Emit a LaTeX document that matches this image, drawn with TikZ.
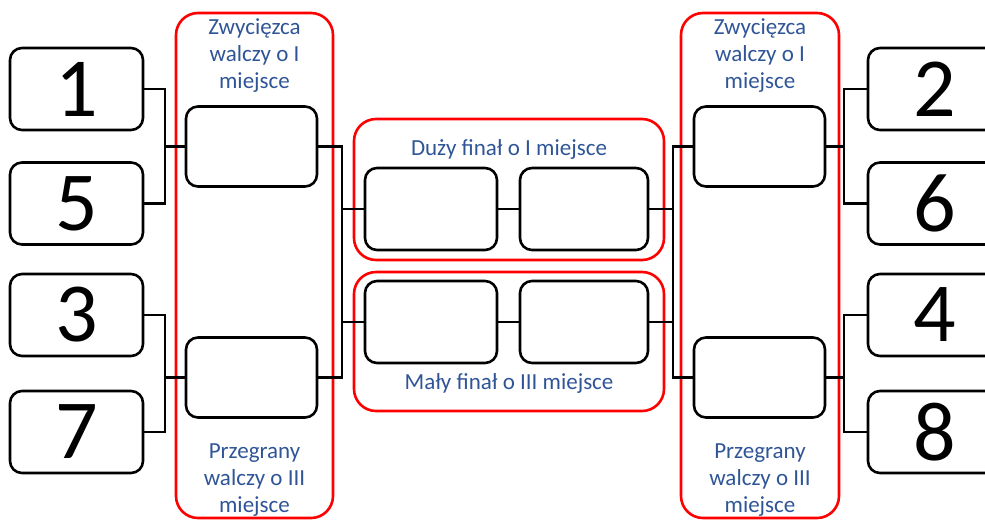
\documentclass[tikz,border=0pt]{standalone}
\usepackage{fontspec}
\setmainfont{Carlito}
\usetikzlibrary{backgrounds}
\definecolor{lblue}{HTML}{2F5597}
\begin{document}
\begin{tikzpicture}[x=1pt,y=-1pt,
  numbox/.style={draw=black,line width=2.6pt,rounded corners=12pt,fill=white,minimum width=133pt,minimum height=82pt,inner sep=0pt,font=\fontsize{84}{84}\selectfont},
  winbox/.style={draw=black,line width=2.6pt,rounded corners=12pt,fill=white,minimum width=131pt,minimum height=80pt,inner sep=0pt},
  finbox/.style={draw=black,line width=2.6pt,rounded corners=12pt,fill=white,minimum height=82pt,inner sep=0pt},
  redbox/.style={draw=red,line width=2.6pt,rounded corners=22pt},
  conn/.style={draw=black,line width=2.6pt},
  lbl/.style={text=lblue,font=\fontsize{23}{27}\selectfont,align=center,inner sep=0pt}]
\useasboundingbox (0,0) rectangle (985,520);
% number boxes
\node[numbox] (n1) at (76.5,89) {1};
\node[numbox] (n5) at (76.5,203.5) {5};
\node[numbox] (n3) at (76.5,315) {3};
\node[numbox] (n7) at (76.5,432) {7};
\node[numbox] (n2) at (934.5,89) {2};
\node[numbox] (n6) at (934.5,203.5) {6};
\node[numbox] (n4) at (934.5,315) {4};
\node[numbox] (n8) at (934.5,432) {8};
% winner boxes
\node[winbox] (wl1) at (251.5,146.5) {};
\node[winbox] (wl2) at (251.5,377.5) {};
\node[winbox] (wr1) at (759.5,146.5) {};
\node[winbox] (wr2) at (759.5,377.5) {};
% final boxes
\node[finbox,minimum width=132pt] (f1) at (431,209) {};
\node[finbox,minimum width=128pt] (f2) at (584,209) {};
\node[finbox,minimum width=132pt] (f3) at (431,322) {};
\node[finbox,minimum width=128pt] (f4) at (584,322) {};
% labels
\node[lbl] (tl) at (254.5,56) {Zwycięzca\\walczy o I\\miejsce};
\node[lbl] (bl) at (254.5,480) {Przegrany\\walczy o III\\miejsce};
\node[lbl] (tr) at (760,56) {Zwycięzca\\walczy o I\\miejsce};
\node[lbl] (br) at (760,480) {Przegrany\\walczy o III\\miejsce};
\node[lbl] (tf) at (509,149) {Duży finał o I miejsce};
\node[lbl] (bf) at (509,383) {Mały finał o III miejsce};
% junction coordinates
\coordinate (jL1) at (165,146.5);
\coordinate (jL2) at (165,377.5);
\coordinate (jC1) at (342,209);
\coordinate (jC2) at (342,322);
\coordinate (jD1) at (673,209);
\coordinate (jD2) at (673,322);
\coordinate (jR1) at (844,146.5);
\coordinate (jR2) at (844,377.5);
\begin{pgfonlayer}{background}
% red groups
\draw[redbox] (176,13) rectangle (333,518);
\draw[redbox] (681,13) rectangle (839,518);
\draw[redbox] (354,119) rectangle (664,260);
\draw[redbox] (354,272) rectangle (664,411);
% connectors
\draw[conn] (n1.east) -| (jL1) |- (n5.east);
\draw[conn] (n3.east) -| (jL2) |- (n7.east);
\draw[conn] (jL1) -- (wl1.west);
\draw[conn] (jL2) -- (wl2.west);
\draw[conn] (wl1.east) -| (jC1) |- (wl2.east);
\draw[conn] (jC1) -- (f1.west);
\draw[conn] (jC2) -- (f3.west);
\draw[conn] (f1.east) -- (f2.west);
\draw[conn] (f3.east) -- (f4.west);
\draw[conn] (f2.east) -- (jD1);
\draw[conn] (f4.east) -- (jD2);
\draw[conn] (wr1.west) -| (jD1) |- (wr2.west);
\draw[conn] (n2.west) -| (jR1) |- (n6.west);
\draw[conn] (n4.west) -| (jR2) |- (n8.west);
\draw[conn] (jR1) -- (wr1.east);
\draw[conn] (jR2) -- (wr2.east);
\end{pgfonlayer}
\end{tikzpicture}
\end{document}
